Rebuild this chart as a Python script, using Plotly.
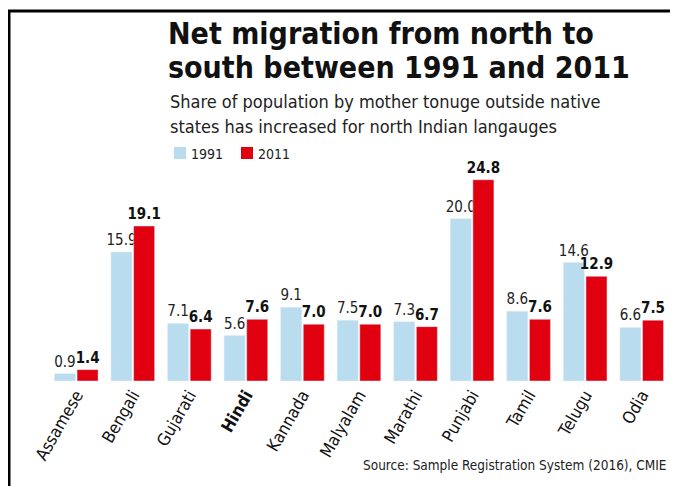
import plotly.graph_objects as go

languages = ["Assamese", "Bengali", "Gujarati", "Hindi", "Kannada", "Malyalam",
             "Marathi", "Punjabi", "Tamil", "Telugu", "Odia"]
tick_labels = ["Assamese", "Bengali", "Gujarati", "<b>Hindi</b>", "Kannada", "Malyalam",
               "Marathi", "Punjabi", "Tamil", "Telugu", "Odia"]
share_1991 = [0.9, 15.9, 7.1, 5.6, 9.1, 7.5, 7.3, 20.0, 8.6, 14.6, 6.6]
share_2011 = [1.4, 19.1, 6.4, 7.6, 7.0, 7.0, 6.7, 24.8, 7.6, 12.9, 7.5]

FONT = "DejaVu Sans Condensed, DejaVu Sans, sans-serif"
BLUE = "#b9dcef"
RED = "#e1000f"

# The page body has an 8px margin, so the figure is drawn 8px smaller and
# all layout positions below are given in window pixels.
OFF = 8
W, H = 678 - OFF, 486 - OFF
L, R, T, B = 48 - OFF, 8, 170 - OFF, 105

fig = go.Figure()
fig.add_trace(go.Bar(
    x=languages, y=share_1991, name="1991", marker_color=BLUE,
    text=[f"{v:.1f}" for v in share_1991], textposition="outside",
    textfont=dict(family=FONT, size=15, color="#222"),
    constraintext="none", cliponaxis=False, showlegend=False,
))
fig.add_trace(go.Bar(
    x=languages, y=share_2011, name="2011", marker_color=RED,
    text=[f"<b>{v:.1f}</b>" for v in share_2011], textposition="outside",
    textfont=dict(family=FONT, size=15, color="#111"),
    constraintext="none", cliponaxis=False, showlegend=False,
))

fig.update_layout(
    width=W, height=H,
    margin=dict(l=L, r=R, t=T, b=B, pad=0),
    paper_bgcolor="white", plot_bgcolor="white",
    barmode="group", bargap=0.2, bargroupgap=0.07,
    font=dict(family=FONT, color="#111"),
    xaxis=dict(tickmode="array", tickvals=languages, ticktext=tick_labels,
               tickangle=-60, tickfont=dict(family=FONT, size=17, color="#111"),
               showline=False, showgrid=False, zeroline=False, ticks="",
               range=[-0.5, 10.5]),
    yaxis=dict(range=[0, 26], visible=False, showgrid=False, zeroline=False),
)

pw = W - L - R
ph = H - T - B


def px(x):
    return (x - OFF - L) / pw


def py(y):
    return (H - B - (y - OFF)) / ph


# frame (top and left lines)
fig.add_shape(type="line", xref="paper", yref="paper", x0=px(8), x1=px(690),
              y0=py(11), y1=py(11), line=dict(color="black", width=3))
fig.add_shape(type="line", xref="paper", yref="paper", x0=px(9), x1=px(9),
              y0=py(10), y1=py(500), line=dict(color="black", width=3))


def ann(text, x, y, size, bold=False, xanchor="left", color="#111"):
    fig.add_annotation(text=(f"<b>{text}</b>" if bold else text),
                       xref="paper", yref="paper", x=px(x), y=py(y),
                       xanchor=xanchor, yanchor="bottom", showarrow=False,
                       font=dict(family=FONT, size=size, color=color))


ann("Net migration from north to", 166, 53, 30, bold=True)
ann("south between 1991 and 2011", 166, 87, 30, bold=True)
ann("Share of population by mother tonuge outside native", 168, 114, 18, color="#222")
ann("states has increased for north Indian langauges", 168, 139, 18, color="#222")
ann("1991", 189, 164, 14, color="#222")
ann("2011", 256, 164, 14, color="#222")
ann("Source: Sample Registration System (2016), CMIE", 669, 475, 13.5,
    xanchor="right", color="#222")

fig.add_shape(type="rect", xref="paper", yref="paper", x0=px(174), x1=px(186),
              y0=py(159), y1=py(147), fillcolor=BLUE, line_width=0)
fig.add_shape(type="rect", xref="paper", yref="paper", x0=px(241), x1=px(253),
              y0=py(159), y1=py(147), fillcolor=RED, line_width=0)

fig.write_html("out.html")
